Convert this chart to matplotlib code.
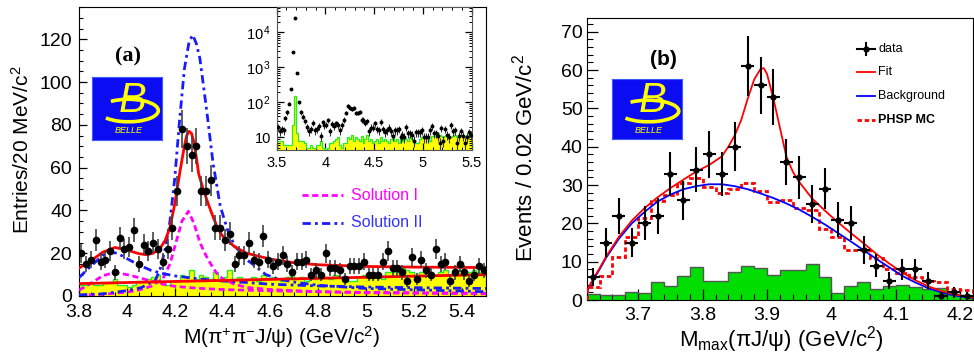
import numpy as np
import matplotlib
matplotlib.use("Agg")
import matplotlib.pyplot as plt
from matplotlib.patches import Arc
from matplotlib.ticker import MultipleLocator, FixedLocator, FuncFormatter, LogLocator, NullFormatter

plt.rcParams["font.family"] = ["Liberation Sans", "DejaVu Sans"]
plt.rcParams["mathtext.fontset"] = "custom"
plt.rcParams["mathtext.rm"] = "Liberation Sans"
plt.rcParams["mathtext.it"] = "Liberation Sans:italic"
plt.rcParams["mathtext.default"] = "regular"

# ---- panel (a): M(pi+pi-J/psi), 20 MeV bins from 3.80 to 5.50
a_lo, a_bin = 3.80, 0.02
a_data = [20, 15, 17, 26, 16, 17, 21, 11, 27, 22,
          23, 31, 15, 24, 21, 25, 22, 16, 22, 32,
          49, 78, 70, 66, 70, 49, 49, 54, 32, 32,
          26, 29, 15, 19, 19, 25, 17, 16, 28, 17,
          14, 16, 19, 15, 11, 16, 16, 17, 10, 12,
          10, 20, 13, 13, 12, 8, 14, 14, 14, 16,
          10, 10, 10, 16, 21, 13, 13, 11, 7, 18,
          8, 17, 12, 10, 22, 15, 16, 7, 11, 15,
          11, 7, 10, 14, 12]
a_sideband = [5, 5, 6, 5, 5, 6, 6, 8, 5, 5,
              4, 5, 7, 7, 8, 9, 10, 6, 5, 7,
              7, 10, 9, 12, 8, 10, 9, 8, 11, 7,
              9, 12, 8, 9, 7, 8, 9, 7, 10, 8,
              9, 8, 7, 9, 10, 8, 9, 7, 9, 8,
              10, 9, 8, 10, 9, 8, 7, 7, 9, 10,
              10, 10, 10, 8, 11, 11, 11, 13, 12, 11,
              10, 11, 12, 11, 10, 11, 12, 10, 11, 12,
              10, 11, 12, 11, 10]

# inset: extra bins from 3.50 to 3.80 (psi(2S) region)
ins_lo = 3.50
ins_data_low = [20, 15, 17, 16, 35, 52, 91, 240, 2700, 26000, 680, 100, 52, 39, 29]
ins_sideband_low = [8, 8, 8, 6, 6, 6, 6, 6, 22, 150, 13, 8, 8, 8, 7]

# fit curves, panel (a)
fit_x = [3.80, 3.85, 3.90, 3.95, 4.00, 4.05, 4.08, 4.11, 4.14, 4.16, 4.18, 4.20, 4.22,
         4.24, 4.25, 4.26, 4.27, 4.28, 4.29, 4.30, 4.32, 4.34, 4.36, 4.38, 4.40, 4.45,
         4.50, 4.60, 4.70, 4.80, 5.00, 5.20, 5.50]
fit_y = [13, 16.5, 20.5, 22.7, 21.5, 19.8, 19.3, 20, 22.5, 26, 32, 43, 57,
         70, 75, 77, 76, 72, 65, 57, 49.5, 43, 37, 31.5, 28, 23,
         20, 17.2, 15.5, 14.6, 13.8, 13.5, 13.3]
bkg_x = [3.80, 5.50]
bkg_y = [5.8, 10.0]
sol1_y4008_x = [3.80, 3.85, 3.90, 3.95, 4.00, 4.05, 4.10, 4.15, 4.20, 4.30, 4.40, 4.60, 4.80, 5.00, 5.50]
sol1_y4008_y = [2.7, 6.0, 9.5, 11.0, 10.0, 8.6, 7.0, 5.5, 4.5, 3.6, 3.0, 2.4, 2.0, 1.7, 1.3]
sol1_y4260_x = [3.80, 3.90, 4.00, 4.05, 4.10, 4.15, 4.18, 4.21, 4.23, 4.257, 4.28, 4.305, 4.33,
                4.35, 4.375, 4.40, 4.45, 4.50, 4.60, 4.80, 5.00, 5.50]
sol1_y4260_y = [0.3, 0.8, 1.8, 2.8, 4.5, 8, 15, 27, 35, 39.6, 34, 25, 19,
                15, 10.6, 8, 5.5, 4, 3, 2, 1.5, 1]
sol2_y4008_x = [3.80, 3.85, 3.90, 3.93, 3.96, 4.00, 4.05, 4.10, 4.15, 4.20, 4.30, 4.40,
                4.50, 4.60, 4.80, 5.00, 5.20, 5.50]
sol2_y4008_y = [8.6, 14, 19, 20.5, 20, 17.5, 14.5, 12, 10.5, 9.4, 8, 7,
                6.3, 5.5, 4.7, 4.2, 3.9, 3.5]
sol2_y4260_x = [3.80, 3.90, 4.00, 4.06, 4.12, 4.14, 4.16, 4.18, 4.20, 4.22, 4.24, 4.26, 4.275,
                4.29, 4.305, 4.333, 4.36, 4.39, 4.42, 4.45, 4.50, 4.53, 4.58, 4.63, 4.70,
                4.80, 5.00, 5.50]
sol2_y4260_y = [0.5, 1, 2.5, 3.9, 7.5, 13, 22, 35, 55, 82, 106, 119, 122,
                118, 111, 87, 62, 42, 31, 23.5, 17, 14.5, 10, 8, 6.5,
                5, 3.5, 2]

# ---- panel (b): Mmax(pi J/psi), 20 MeV bins from 3.62 to 4.22
b_lo, b_bin = 3.62, 0.02
b_data = [6, 15, 22, 15, 20, 22, 33, 26, 34, 38,
          33, 40, 61, 56, 53, 36, 32, 25, 29, 21,
          20, 13, 9, 5, 8, 8, 5, 1, 2, 1]
b_sideband = [1.6, 1.2, 1.2, 2.2, 1.9, 4.6, 3.6, 6.3, 8.5, 4.9,
              4.9, 7.2, 8.8, 8.3, 6.4, 7.9, 7.7, 9.3, 5.9, 1.9,
              3.7, 4.6, 2.9, 3.6, 4.0, 3.3, 2.9, 3.1, 1.6, 1.2]
b_phsp = [3.5, 6.2, 11.3, 16.5, 21.5, 25.8, 27.5, 30.5, 31.8, 29.5,
          27.8, 29.0, 30.5, 28.5, 25.5, 26.0, 24.0, 23.5, 18.5, 16.5,
          13.0, 13.0, 11.0, 8.2, 7.0, 6.0, 5.0, 4.8, 3.0, 2.5]
b_bkg_x = [3.62, 3.63, 3.64, 3.65, 3.67, 3.69, 3.71, 3.73, 3.75, 3.77, 3.79, 3.81, 3.83,
           3.85, 3.87, 3.89, 3.91, 3.93, 3.95, 3.97, 3.99, 4.01, 4.03, 4.05, 4.07, 4.09,
           4.11, 4.13, 4.15, 4.17, 4.19, 4.21, 4.22]
b_bkg_y = [2.4, 5.2, 8.0, 11.0, 16.0, 20.0, 23.0, 25.7, 27.5, 28.9, 29.7, 30.2, 30.2,
           29.7, 28.9, 27.8, 26.6, 25.2, 23.6, 21.7, 19.7, 17.5, 15.3, 13.0, 10.7, 8.5,
           6.3, 4.6, 3.1, 2.0, 1.2, 0.7, 0.5]
b_fit_x = [3.62, 3.63, 3.64, 3.65, 3.67, 3.69, 3.71, 3.73, 3.75, 3.77, 3.79, 3.81, 3.83,
           3.84, 3.85, 3.86, 3.87, 3.88, 3.89, 3.895, 3.90, 3.91, 3.92, 3.93, 3.94, 3.95,
           3.97, 3.99, 4.01, 4.03, 4.05, 4.07, 4.09, 4.11, 4.13, 4.15, 4.17, 4.19, 4.21, 4.22]
b_fit_y = [2.4, 5.5, 8.3, 11.3, 16.5, 20.7, 24.0, 26.8, 29.2, 31.4, 33.5, 35.2, 37.5,
           40.0, 43.0, 47.0, 52.5, 57.5, 60.3, 60.5, 59.0, 52.5, 45.0, 37.5, 33.5, 30.8,
           26.5, 23.3, 20.3, 17.5, 14.8, 12.0, 9.5, 7.2, 5.2, 3.6, 2.4, 1.5, 0.9, 0.6]

YELLOW = "#ffff00"
GREEN_LINE = "#22ee22"
MAGENTA = "#ff00ff"
BLUE = "#1a1aff"
gfmt = FuncFormatter(lambda v, p: "%g" % round(v, 3))


def belle_logo(rect):
    lax = fig.add_axes(rect)
    lax.set_facecolor("#0c0cf2")
    lax.set_xticks([])
    lax.set_yticks([])
    for s in lax.spines.values():
        s.set_color("#3b5bff")
    lax.set_xlim(0, 1)
    lax.set_ylim(0, 1)
    lax.add_patch(Arc((0.52, 0.47), 0.86, 0.36, theta1=200, theta2=150,
                      color=YELLOW, lw=2.6))
    lax.text(0.58, 0.63, "B", color=YELLOW, fontsize=30, fontstyle="italic",
             ha="center", va="center")
    lax.text(0.52, 0.15, "BELLE", color=YELLOW, fontsize=6.5, fontstyle="italic",
             ha="center", va="center")


def style_ticks(ax, size=14, major=6, minor=3):
    ax.tick_params(which="both", direction="in", top=False, right=False, labelsize=size)
    ax.tick_params(which="major", length=major, width=0.9)
    ax.tick_params(which="minor", length=minor, width=0.8)


fig = plt.figure(figsize=(9.74, 3.58), dpi=100)

# ================= panel (a) =================
ax = fig.add_axes([0.0811, 0.1732, 0.4179, 0.8073])
a_edges = a_lo + a_bin * np.arange(len(a_data) + 1)
a_cent = a_edges[:-1] + a_bin / 2
ax.stairs(a_sideband, a_edges, fill=True, color=YELLOW, zorder=1)
ax.stairs(a_sideband, a_edges, color=GREEN_LINE, lw=1.0, zorder=2)
ax.plot(sol1_y4008_x, sol1_y4008_y, color=MAGENTA, lw=2, ls=(0, (2.2, 1.3)), zorder=3)
ax.plot(sol1_y4260_x, sol1_y4260_y, color=MAGENTA, lw=2, ls=(0, (2.2, 1.3)), zorder=3)
ax.plot(sol2_y4008_x, sol2_y4008_y, color=BLUE, lw=2, ls=(0, (3, 1.5, 1, 1.5)), zorder=3)
ax.plot(sol2_y4260_x, sol2_y4260_y, color=BLUE, lw=2, ls=(0, (3, 1.5, 1, 1.5)), zorder=3)
ax.plot(bkg_x, bkg_y, color="red", lw=2, zorder=4)
ax.plot(fit_x, fit_y, color="red", lw=2, zorder=4)
ax.errorbar(a_cent, a_data, yerr=np.sqrt(a_data), fmt="o", ms=4.5, color="black",
            ecolor="#444444", elinewidth=1.2, capsize=0, zorder=5)
ax.set_xlim(3.8, 5.5)
ax.set_ylim(0, 135.1)
ax.xaxis.set_major_locator(FixedLocator([3.8, 4.0, 4.2, 4.4, 4.6, 4.8, 5.0, 5.2, 5.4]))
ax.xaxis.set_minor_locator(MultipleLocator(0.05))
ax.xaxis.set_major_formatter(gfmt)
ax.yaxis.set_major_locator(MultipleLocator(20))
ax.yaxis.set_minor_locator(MultipleLocator(5))
style_ticks(ax, 14, 6, 3)
ax.tick_params(axis="x", pad=6)
ax.tick_params(axis="y", pad=5)
ax.set_xlabel("M(π$^{+}$π$^{-}$J/ψ) (GeV/c$^{2}$)", fontsize=15)
ax.xaxis.set_label_coords(0.498, -0.141)
ax.xaxis.label.set_va("center")
ax.set_ylabel("Entries/20 MeV/c$^{2}$", fontsize=15)
ax.yaxis.set_label_coords(-0.141, 0.505)
ax.yaxis.label.set_va("center")
ax.text(0.120, 0.827, "(a)", transform=ax.transAxes, fontsize=16, fontweight="bold",
        family="Liberation Serif", ha="center", va="center")
# legend of solutions
ax.plot([0.547, 0.649], [0.349, 0.349], transform=ax.transAxes, color=MAGENTA, lw=2,
        ls=(0, (2.2, 1.3)))
ax.plot([0.547, 0.649], [0.254, 0.254], transform=ax.transAxes, color=BLUE, lw=2,
        ls=(0, (3, 1.5, 1, 1.5)))
ax.text(0.668, 0.349, "Solution I", transform=ax.transAxes, color=MAGENTA, fontsize=11.5,
        va="center")
ax.text(0.668, 0.254, "Solution II", transform=ax.transAxes, color="#3333ff", fontsize=11.5,
        va="center")

# inset (log scale, wider range)
ins = fig.add_axes([0.2841, 0.581, 0.2002, 0.4003])
ins_data = ins_data_low + a_data
ins_side = ins_sideband_low + a_sideband
ins_edges = ins_lo + a_bin * np.arange(len(ins_data) + 1)
ins_cent = ins_edges[:-1] + a_bin / 2
ins.stairs(ins_side, ins_edges, baseline=1, fill=True, color=YELLOW, zorder=1)
ins.stairs(ins_side, ins_edges, baseline=1, color=GREEN_LINE, lw=0.9, zorder=2)
ins.errorbar(ins_cent, ins_data, yerr=np.sqrt(ins_data), fmt="o", ms=1.8, color="black",
             ecolor="#333333", elinewidth=0.8, capsize=0, zorder=3)
ins.set_yscale("log")
ins.set_xlim(3.5, 5.5)
ins.set_ylim(4.33, 5.4e4)
ins.xaxis.set_major_locator(FixedLocator([3.5, 4.0, 4.5, 5.0, 5.5]))
ins.xaxis.set_minor_locator(MultipleLocator(0.1))
ins.xaxis.set_major_formatter(gfmt)
ins.yaxis.set_major_locator(FixedLocator([10, 100, 1000, 10000]))
ins.yaxis.set_major_formatter(FuncFormatter(
    lambda v, p: {10: "10", 100: "10$^{\\,2}$", 1000: "10$^{\\,3}$", 10000: "10$^{\\,4}$"}.get(int(round(v)), "")))
ins.yaxis.set_minor_locator(LogLocator(base=10, subs=np.arange(2, 10), numticks=20))
ins.yaxis.set_minor_formatter(NullFormatter())
ins.tick_params(which="both", direction="in", top=True, right=True, labelsize=10.5)
ins.tick_params(which="major", length=5, width=0.9, pad=4)
ins.tick_params(which="minor", length=2.5, width=0.7)
for s in ins.spines.values():
    s.set_color("#555555")

belle_logo([0.0948, 0.609, 0.0713, 0.175])

# ================= panel (b) =================
bx = fig.add_axes([0.6024, 0.162, 0.3966, 0.7869])
b_edges = b_lo + b_bin * np.arange(len(b_data) + 1)
b_cent = b_edges[:-1] + b_bin / 2
bx.stairs(b_sideband, b_edges, fill=True, color="#00dd00", zorder=1)
bx.stairs(b_sideband, b_edges, color="#555555", lw=1.0, zorder=2)
bx.stairs(b_phsp, b_edges, color="red", lw=2, ls=(0, (1.6, 1.0)), zorder=3)
bx.plot(b_bkg_x, b_bkg_y, color="blue", lw=1.3, zorder=4)
bx.plot(b_fit_x, b_fit_y, color="red", lw=1.3, zorder=4)
bx.errorbar(b_cent, b_data, xerr=b_bin / 2, yerr=np.sqrt(b_data), fmt="o", ms=3.5,
            color="black", elinewidth=1.5, capsize=0, zorder=5)
bx.set_xlim(3.62, 4.22)
bx.set_ylim(0, 73.5)
bx.xaxis.set_major_locator(FixedLocator([3.7, 3.8, 3.9, 4.0, 4.1, 4.2]))
bx.xaxis.set_minor_locator(MultipleLocator(0.02))
bx.xaxis.set_major_formatter(gfmt)
bx.yaxis.set_major_locator(MultipleLocator(10))
bx.yaxis.set_minor_locator(MultipleLocator(2))
style_ticks(bx, 14, 8, 4)
bx.tick_params(axis="x", pad=5)
bx.tick_params(axis="y", pad=3)
bx.set_xlabel("M$_{max}$(πJ/ψ) (GeV/c$^{2}$)", fontsize=16)
bx.xaxis.set_label_coords(0.505, -0.142)
bx.xaxis.label.set_va("center")
bx.set_ylabel("Events / 0.02 GeV/c$^{2}$", fontsize=16)
bx.yaxis.set_label_coords(-0.16, 0.504)
bx.yaxis.label.set_va("center")
bx.text(0.198, 0.854, "(b)", transform=bx.transAxes, fontsize=15, fontweight="bold",
        ha="center", va="center")
# legend
bx.plot([0.699, 0.746], [0.890, 0.890], transform=bx.transAxes, color="black", lw=1.5)
bx.plot([0.7225, 0.7225], [0.868, 0.912], transform=bx.transAxes, color="black", lw=1.5)
bx.plot([0.7225], [0.890], transform=bx.transAxes, marker="o", ms=3.5, color="black")
bx.plot([0.699, 0.746], [0.808, 0.808], transform=bx.transAxes, color="red", lw=1.3)
bx.plot([0.699, 0.746], [0.725, 0.725], transform=bx.transAxes, color="blue", lw=1.3)
bx.plot([0.699, 0.746], [0.639, 0.639], transform=bx.transAxes, color="red", lw=2,
        ls=(0, (1.6, 1.0)))
for yy, lab, w in [(0.890, "data", "normal"), (0.808, "Fit", "normal"),
                   (0.725, "Background", "normal"), (0.639, "PHSP MC", "bold")]:
    bx.text(0.755, yy, lab, transform=bx.transAxes, fontsize=9, fontweight=w, va="center")

belle_logo([0.628, 0.611, 0.0725, 0.168])

fig.savefig("out.png", dpi=100)
